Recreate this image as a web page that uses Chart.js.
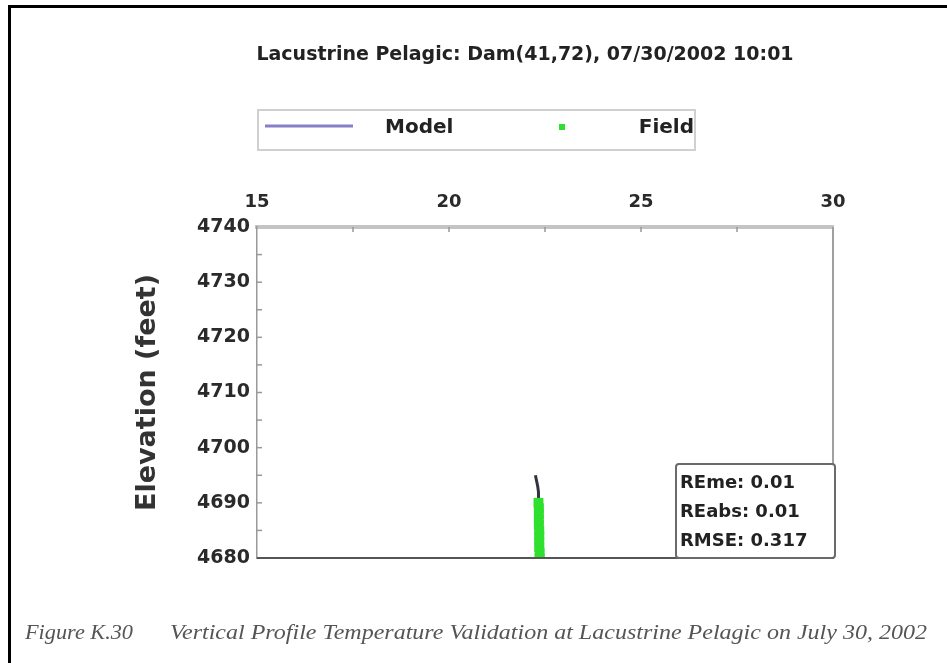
<!DOCTYPE html>
<html>
<head>
<meta charset="utf-8">
<title>Lacustrine Pelagic profile</title>
<script src="https://cdn.jsdelivr.net/npm/chart.js@4.4.0/dist/chart.umd.min.js"></script>
<style>
  html, body { margin: 0; padding: 0; background: #fff; }
  #wrap { position: relative; width: 947px; height: 663px; overflow: hidden; }
  #frame {
    position: absolute; left: 8px; top: 5px; right: -10px; bottom: -10px;
    border-top: 3px solid #000; border-left: 3px solid #000; pointer-events: none;
  }
</style>
</head>
<body>
<div id="wrap">
  <canvas id="profileChart"></canvas>
  <div id="frame"></div>
</div>
<script>
// chart texts
const titleText = 'Lacustrine Pelagic: Dam(41,72), 07/30/2002 10:01';
const captionLabel = 'Figure K.30';
const captionText = 'Vertical Profile Temperature Validation at Lacustrine Pelagic on July 30, 2002';
const legendNames = ['Model', 'Field'];

// axes
const xTicks = [15, 20, 25, 30];
const xMinorTicks = [17.5, 20, 22.5, 25, 27.5];
const yTicks = [4680, 4690, 4700, 4710, 4720, 4730, 4740];
const yMinorTicks = [4685, 4690, 4695, 4700, 4705, 4710, 4715, 4720, 4725, 4730, 4735];

// model profile (temperature vs elevation)
const modelElevation = [4680, 4682, 4684, 4686, 4688, 4690, 4692, 4693, 4694, 4695];
const modelTemp = [22.36, 22.36, 22.35, 22.35, 22.35, 22.34, 22.33, 22.31, 22.28, 22.25];

// field measurements
const fieldElevation = [4680, 4681, 4682, 4683, 4684, 4685, 4686, 4687, 4688, 4689, 4690];
const fieldTemp = [22.36, 22.36, 22.35, 22.35, 22.35, 22.35, 22.34, 22.34, 22.34, 22.34, 22.33];

// error statistics
const statNames = ['REme', 'REabs', 'RMSE'];
const statValues = ['0.01', '0.01', '0.317'];

const FONT = '"DejaVu Sans", Verdana, sans-serif';
const modelColor = '#33333f';
const modelLegendColor = '#8680c8';
const fieldColor = '#2fe02f';

const toPoints = (xs, ys) => xs.map((x, i) => ({ x: x, y: ys[i] }));

const decorations = {
  id: 'decorations',
  afterDraw(chart) {
    const { ctx, chartArea: a, scales: { x, y } } = chart;
    const line = (x1, y1, x2, y2) => {
      ctx.beginPath(); ctx.moveTo(x1, y1); ctx.lineTo(x2, y2); ctx.stroke();
    };
    ctx.save();

    // right and bottom edges of the plot frame
    ctx.lineWidth = 2;
    ctx.strokeStyle = '#a0a0a0';
    line(a.right, a.top, a.right, a.bottom);
    ctx.strokeStyle = '#555';
    line(a.left, a.bottom, a.right + 1, a.bottom);

    // small inward ticks
    ctx.strokeStyle = '#999';
    ctx.lineWidth = 1.5;
    xMinorTicks.forEach(v => {
      const px = x.getPixelForValue(v);
      line(px, a.top, px, a.top + 5);
    });
    yMinorTicks.forEach(v => {
      const py = y.getPixelForValue(v);
      line(a.left, py, a.left + 5, py);
    });

    // title
    ctx.fillStyle = '#222';
    ctx.font = 'bold 19px ' + FONT;
    ctx.textAlign = 'center';
    ctx.textBaseline = 'middle';
    ctx.fillText(titleText, 525, 55);

    // legend box
    ctx.strokeStyle = '#d0d0d0';
    ctx.lineWidth = 2;
    ctx.strokeRect(258, 110, 437, 40);
    ctx.strokeStyle = modelLegendColor;
    ctx.lineWidth = 3;
    line(265, 126, 353, 126);
    ctx.fillStyle = fieldColor;
    ctx.fillRect(559, 124, 6, 6);
    ctx.fillStyle = '#222';
    ctx.font = 'bold 20px ' + FONT;
    ctx.textAlign = 'left';
    ctx.fillText(legendNames[0], 385, 128);
    ctx.textAlign = 'right';
    ctx.fillText(legendNames[1], 694, 128);

    // statistics box
    ctx.fillStyle = '#fff';
    ctx.strokeStyle = '#6a6a6a';
    ctx.lineWidth = 2;
    ctx.beginPath();
    ctx.roundRect(676, 464, 159, 94, 3);
    ctx.fill();
    ctx.stroke();
    ctx.fillStyle = '#222';
    ctx.font = 'bold 18px ' + FONT;
    ctx.textAlign = 'left';
    statNames.forEach((n, i) => {
      ctx.fillText(n + ': ' + statValues[i], 680, 483 + i * 29);
    });

    // caption under the figure
    ctx.fillStyle = '#555';
    ctx.font = 'italic 20px "Liberation Serif", serif';
    const fitText = (txt, left, width, yy) => {
      const w = ctx.measureText(txt).width;
      ctx.save();
      ctx.translate(left, yy);
      ctx.scale(width / w, 1);
      ctx.fillText(txt, 0, 0);
      ctx.restore();
    };
    fitText(captionLabel, 25, 108, 634);
    fitText(captionText, 170, 757, 634);

    ctx.restore();
  }
};

new Chart(document.getElementById('profileChart'), {
  type: 'scatter',
  data: {
    datasets: [
      {
        label: legendNames[1],
        data: toPoints(fieldTemp, fieldElevation),
        pointStyle: 'rect',
        pointRadius: 7,
        pointBackgroundColor: fieldColor,
        pointBorderColor: fieldColor,
        pointBorderWidth: 0,
        showLine: false,
        order: 0
      },
      {
        label: legendNames[0],
        data: toPoints(modelTemp, modelElevation),
        showLine: true,
        borderColor: modelColor,
        borderWidth: 3,
        pointRadius: 0,
        order: 1
      }
    ]
  },
  options: {
    responsive: true,
    maintainAspectRatio: false,
    animation: false,
    layout: { padding: { top: 0, left: 0, right: 114, bottom: 105 } },
    plugins: {
      legend: { display: false },
      title: { display: false },
      tooltip: { enabled: false }
    },
    scales: {
      x: {
        type: 'linear',
        position: 'top',
        min: 15,
        max: 30,
        afterBuildTicks: axis => { axis.ticks = xTicks.map(v => ({ value: v })); },
        afterFit: axis => { axis.height = 227; },
        grid: { display: false, drawTicks: false },
        border: { display: true, color: '#c4c4c4', width: 4 },
        ticks: {
          padding: 14,
          maxRotation: 0,
          color: '#2a2a2a',
          callback: v => String(v),
          font: { family: FONT, size: 18, weight: 'bold' }
        }
      },
      y: {
        type: 'linear',
        min: 4680,
        max: 4740,
        afterBuildTicks: axis => { axis.ticks = yTicks.map(v => ({ value: v })); },
        afterFit: axis => { axis.width = 257; },
        grid: { display: false, drawTicks: false },
        border: { display: true, color: '#999', width: 1.5 },
        ticks: {
          padding: 7,
          color: '#2a2a2a',
          callback: v => String(v),
          font: { family: FONT, size: 19, weight: 'bold' }
        },
        title: {
          display: true,
          text: 'Elevation (feet)',
          color: '#333',
          padding: { top: 132, bottom: 0 },
          font: { family: FONT, size: 27, weight: 'bold' }
        }
      }
    }
  },
  plugins: [decorations]
});
</script>
</body>
</html>
